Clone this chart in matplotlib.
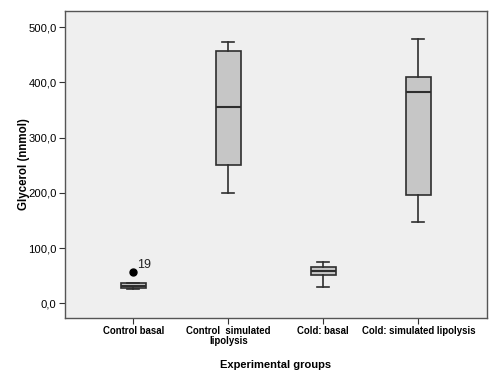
import matplotlib
matplotlib.use("Agg")
import matplotlib.pyplot as plt

categories = ["Control basal", "Control  simulated\nlipolysis", "Cold: basal", "Cold: simulated lipolysis"]
whislo = [25, 199, 30, 147]
q1 = [28, 251, 51, 196]
med = [32, 356, 59, 382]
q3 = [36, 457, 66, 410]
whishi = [37, 473, 75, 479]
outliers = [[56], [], [], []]
outlier_labels = ["19", None, None, None]
yticks = [0, 100, 200, 300, 400, 500]

plt.rcParams['font.family'] = ['Liberation Sans', 'DejaVu Sans']

fig = plt.figure(figsize=(5.0, 3.79), dpi=100)
ax = fig.add_axes([0.13, 0.161, 0.844, 0.81])
ax.set_facecolor("#efefef")

stats = []
for i in range(len(categories)):
    stats.append(dict(whislo=whislo[i], q1=q1[i], med=med[i], q3=q3[i],
                      whishi=whishi[i], fliers=outliers[i], label=categories[i]))

lc = "#2e2e2e"
bp = ax.bxp(stats, positions=range(1, len(categories) + 1), widths=0.26,
            patch_artist=True, showfliers=True,
            boxprops=dict(facecolor="#c6c6c6", edgecolor=lc, linewidth=1.2),
            medianprops=dict(color=lc, linewidth=1.5),
            whiskerprops=dict(color=lc, linewidth=1.2),
            capprops=dict(color=lc, linewidth=1.2),
            capwidths=0.13,
            flierprops=dict(marker='o', markerfacecolor='black', markeredgecolor='black', markersize=5))

for i, lab in enumerate(outlier_labels):
    if lab:
        for v in outliers[i]:
            ax.annotate(lab, (i + 1, v), xytext=(3, 1), textcoords='offset points',
                        fontsize=9, color='#222222', va='bottom', ha='left')

ax.set_xlim(0.281, 4.723)
ax.set_ylim(-26.6, 529.5)
ax.set_yticks(yticks)
ax.set_yticklabels([f"{v:.1f}".replace('.', ',') for v in yticks], fontsize=8.1)
ax.set_xticklabels(categories, fontsize=6.9, fontweight='bold', linespacing=0.95)
ax.tick_params(axis='both', length=4, color='#333333', width=0.8, pad=2)
for s in ax.spines.values():
    s.set_color('#555555')
    s.set_linewidth(1.0)

ax.set_xlabel("Experimental groups", fontsize=8, fontweight='bold', labelpad=10)
ax.set_ylabel("Glycerol (nnmol)", fontsize=8.3, fontweight='bold')
ax.yaxis.set_label_coords(-0.084, 0.5)

fig.savefig("out.png", dpi=100)
